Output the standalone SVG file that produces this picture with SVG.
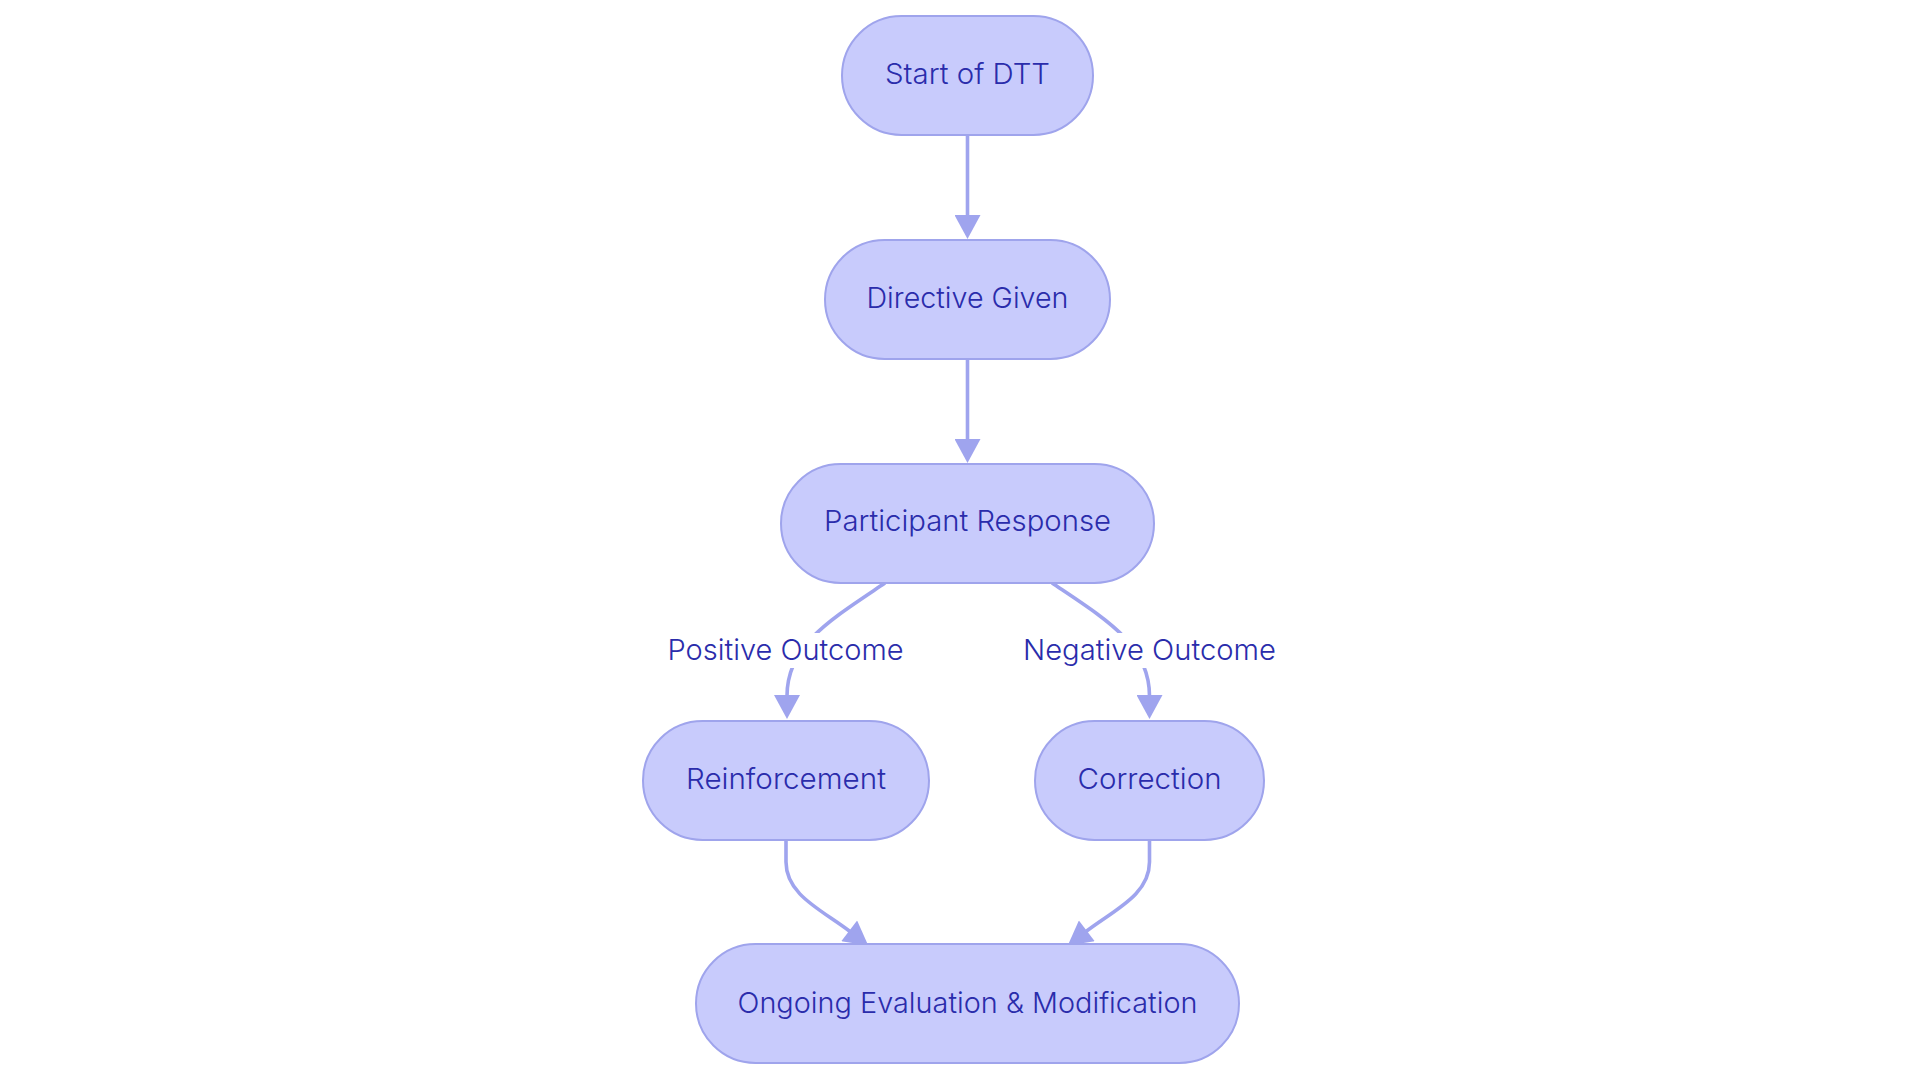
<svg xmlns="http://www.w3.org/2000/svg" width="1920" height="1083" viewBox="0 0 1920 1083">
<style>
.node rect{fill:#c8cbfc;stroke:#9fa4ec;stroke-width:2}
.node text,.lbl text{font-family:Inter,"Open Sans","Liberation Sans",sans-serif;font-size:29px;font-weight:300;fill:#2a2cab;text-anchor:middle}
.edge{fill:none;stroke:#9fa4ee;stroke-width:3.6}
.lbl rect{fill:#ffffff}
</style>
<defs>
<marker id="ah" markerUnits="userSpaceOnUse" markerWidth="26" markerHeight="26" refX="1" refY="13" orient="auto" viewBox="0 0 24 26">
<path d="M0,0 L24,13 L0,26 z" fill="#9fa4ee"/>
</marker>
</defs>
<rect width="1920" height="1083" fill="#ffffff"/>
<g id="connectors">
<path class="edge" d="M967.5,135 L967.5,216" marker-end="url(#ah)"/>
<path class="edge" d="M967.5,359 L967.5,440" marker-end="url(#ah)"/>
<path class="edge" d="M885,583 C830,620 787,645 787,696" marker-end="url(#ah)"/>
<path class="edge" d="M1052,583 C1107,620 1149.5,645 1149.5,696" marker-end="url(#ah)"/>
<path class="edge" d="M786,840 L786,862 C786,895 822,910 850,931.5" marker-end="url(#ah)"/>
<path class="edge" d="M1149.5,840 L1149.5,862 C1149.5,895 1114,910 1086,931.5" marker-end="url(#ah)"/>
<g class="lbl" id="label-positive">
<rect x="667" y="633" width="237" height="35"/>
<text x="785.5" y="660" textLength="236" lengthAdjust="spacingAndGlyphs">Positive Outcome</text>
</g>
<g class="lbl" id="label-negative">
<rect x="1023" y="633" width="254" height="35"/>
<text x="1149.5" y="660" textLength="253" lengthAdjust="spacingAndGlyphs">Negative Outcome</text>
</g>
</g>
<g id="start" class="node">
<rect x="842" y="16" width="251" height="119" rx="59.5"/>
<text x="967.5" y="84" textLength="165" lengthAdjust="spacingAndGlyphs">Start of DTT</text>
</g>
<g id="directive" class="node">
<rect x="825" y="240" width="285" height="119" rx="59.5"/>
<text x="967.5" y="308" textLength="202" lengthAdjust="spacingAndGlyphs">Directive Given</text>
</g>
<g id="participant" class="node">
<rect x="781" y="464" width="373" height="119" rx="59.5"/>
<text x="967.5" y="531" textLength="287" lengthAdjust="spacingAndGlyphs">Participant Response</text>
</g>
<g id="reinforcement" class="node">
<rect x="643" y="721" width="286" height="119" rx="59.5"/>
<text x="786" y="789" textLength="200" lengthAdjust="spacingAndGlyphs">Reinforcement</text>
</g>
<g id="correction" class="node">
<rect x="1035" y="721" width="229" height="119" rx="59.5"/>
<text x="1149.5" y="789" textLength="144" lengthAdjust="spacingAndGlyphs">Correction</text>
</g>
<g id="ongoing" class="node">
<rect x="696" y="944" width="543" height="119" rx="59.5"/>
<text x="967.5" y="1012.5" textLength="460" lengthAdjust="spacingAndGlyphs">Ongoing Evaluation &amp; Modification</text>
</g>
</svg>
